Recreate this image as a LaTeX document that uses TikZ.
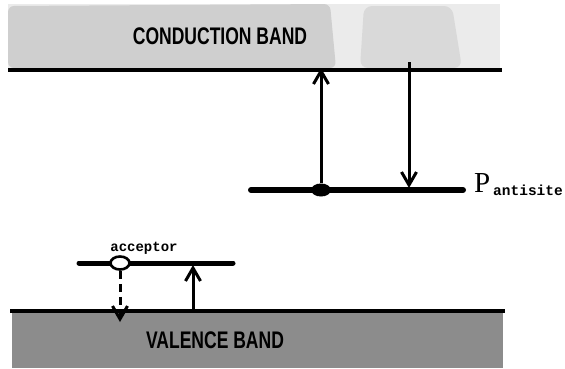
\documentclass[tikz,border=0pt]{standalone}
\usepackage{fontspec}
\setsansfont{Liberation Sans}
\setmainfont{Liberation Serif}
\setmonofont{Liberation Mono}
\usetikzlibrary{arrows.meta, shapes.geometric}

\begin{document}
\begin{tikzpicture}[x=1pt,y=-1pt]

% Define widths for the lines
\def\bandw{3.5pt}
\def\levelw{6pt}
% Define styles
\tikzset{bandline/.style={line width=\bandw},
        levelline/.style={line width=\levelw, line cap=round},
        jump/.style={line width=3pt, -{Straight Barb[length=13pt, width=15pt, line width=3pt]}},
        bandlabel/.style={font=\sffamily\bfseries\fontsize{24}{24}\selectfont, xscale=0.73, inner sep=0pt}
        }

\useasboundingbox (0,0) rectangle (565,368);

% Conduction band (light, patchy shading)
\fill[black!8] (8,4) rectangle (500,68);
\fill[black!19, rounded corners=6pt] (8,6) -- (330,4) -- (336,68) -- (8,68) -- cycle;
\fill[black!15, rounded corners=8pt] (364,6) -- (452,6) -- (462,68) -- (360,68) -- cycle;
\node[bandlabel] (cbtext) at (220,36.5) {CONDUCTION BAND};
\draw[bandline] (8,70) -- (502,70); % Bottom edge of conduction band

% Valence band (darker shading)
\fill[black!45] (12,311) rectangle (503,368);
\node[bandlabel] (vbtext) at (215,340) {VALENCE BAND};
\draw[bandline] (10,311) -- (505,311); % Top edge of valence band

% Antisite level
\draw[levelline] (251,190) -- (463,190);
\node[fill, ellipse, minimum width=20pt, minimum height=13pt, inner sep=0pt] (pdot) at (321,190) {};
\node[anchor=base west, inner sep=0pt, font=\fontsize{29}{29}\selectfont] (ptext) at (474,192) {P};
\node[anchor=base west, inner sep=0pt, font=\ttfamily\bfseries\fontsize{14.5}{14.5}\selectfont] (psub) at (493,195) {antisite};

% Acceptor level
\draw[levelline, line width=5pt] (79,263) -- (233,263);
\node[draw, fill=white, line width=2.6pt, ellipse, minimum width=19pt, minimum height=13pt, inner sep=0pt] (acc) at (120,263) {};
\node[anchor=base, inner sep=0pt, font=\ttfamily\bfseries\fontsize{14}{14}\selectfont] (acctext) at (144,251) {acceptor};

% End points of the transitions
\coordinate (cbup) at (321,68);
\coordinate (cbdown) at (409,62);
\coordinate (pdown) at (409,188);
\coordinate (vbtop) at (193,312);
\coordinate (accup) at (193,265);
\coordinate (vbin) at (120,322);

% Transitions
\draw[jump] (pdot) -- (cbup); % Up from the antisite
\draw[jump] (cbdown) -- (pdown); % Down to the antisite
\draw[jump] (vbtop) -- (accup); % Up to the acceptor
\draw[jump, dash pattern=on 8pt off 5pt] (acc) -- (vbin); % Down into the valence band

\end{tikzpicture}
\end{document}
